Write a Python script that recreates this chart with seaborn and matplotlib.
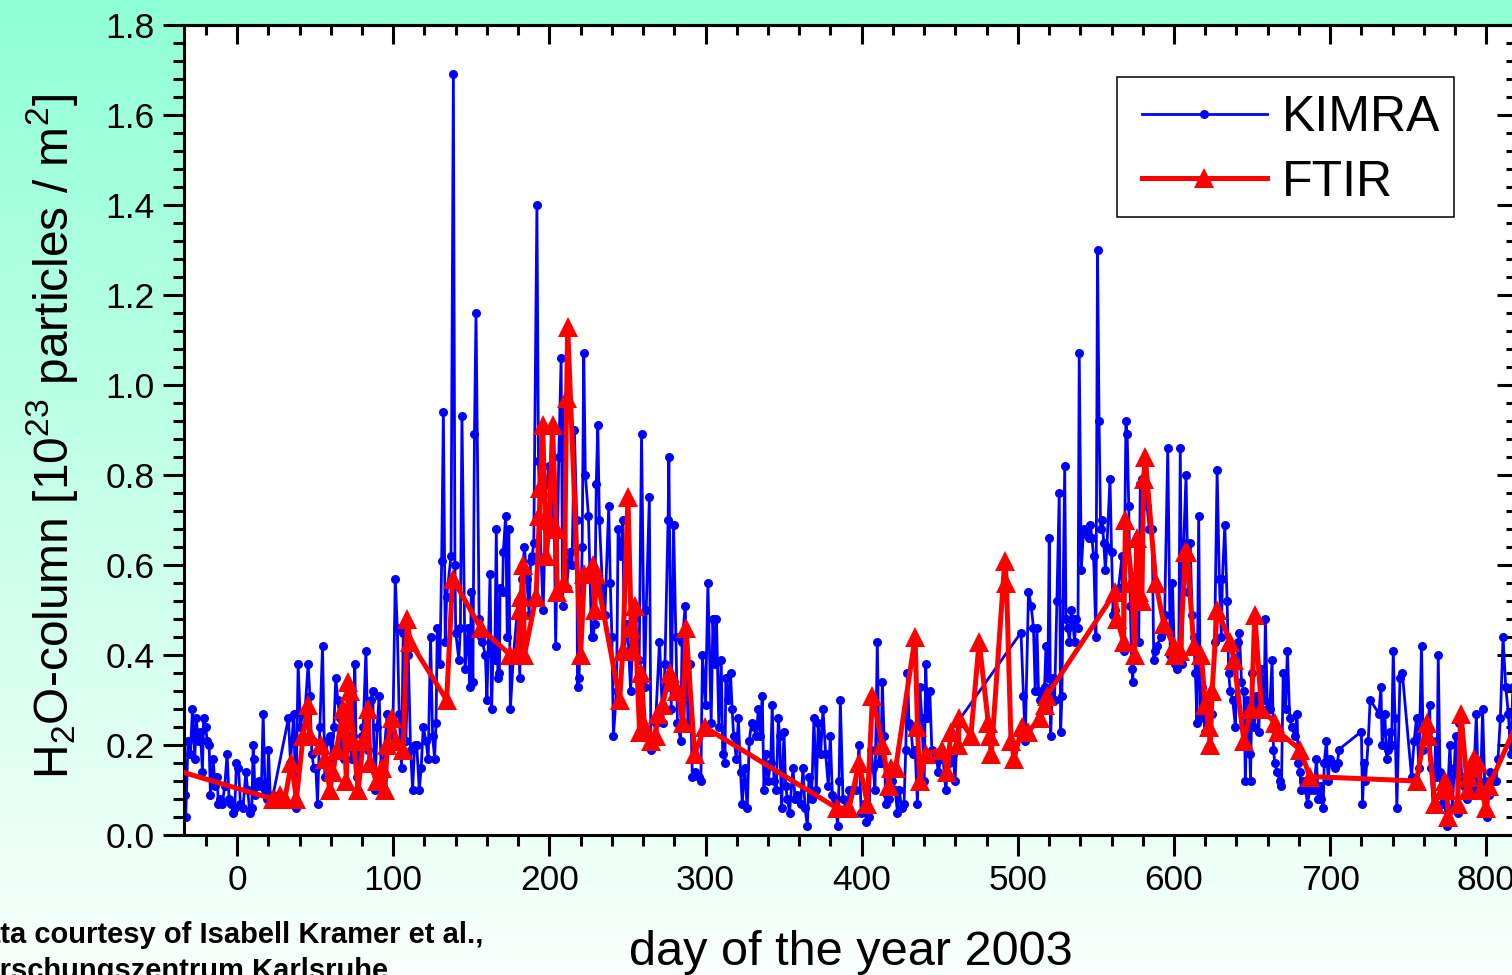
import numpy as np
import matplotlib
matplotlib.use("Agg")
import matplotlib.pyplot as plt
import seaborn as sns
from matplotlib.ticker import MultipleLocator, FormatStrFormatter
from matplotlib.patches import Rectangle

# KIMRA: day of year 2003 / H2O column (1e23 particles per m^2)
KIMRA_DAY = [
    -33.5, -32.9, -31.4, -29.9, -28.6, -27.1, -26.1, -25.0, -23.5, -22.2, -21.4, -20.1, -19.2, -17.9, -17.1,
    -15.4, -14.1, -12.8, -12.0, -10.7, -9.4, -7.9, -6.4, -5.1, -3.6, -2.6, -1.5, -0.4, 0.9, 2.1, 3.8, 5.6,
    6.8, 8.1, 9.4, 10.3, 10.7, 11.5, 12.8, 14.1, 15.6, 16.7, 17.9, 19.2, 20.1, 21.4, 23.1, 32.9, 34.2, 36.3,
    37.6, 39.1, 40.6, 41.9, 43.4, 45.5, 46.6, 47.9, 49.1, 50.4, 51.5, 53.0, 54.7, 56.2, 57.7, 59.4, 60.7,
    62.0, 63.2, 64.5, 65.8, 67.1, 68.4, 70.1, 71.4, 73.3, 74.4, 75.4, 76.5, 78.2, 79.7, 80.8, 82.5, 84.0,
    85.5, 86.8, 88.2, 89.7, 91.0, 92.3, 93.6, 96.2, 97.9, 99.6, 101.3, 102.6, 103.8, 105.3, 106.4, 108.1,
    109.6, 111.1, 112.4, 113.7, 115.0, 116.7, 117.9, 119.2, 120.9, 122.4, 123.9, 125.2, 126.5, 127.4, 128.2,
    129.9, 131.0, 132.1, 133.3, 134.2,
    137.0, 138.5, 139.5, 140, 142, 143, 144, 146, 148, 149, 150, 151, 152, 153, 155, 156, 157, 159, 160,
    162, 163, 164, 165, 166, 167, 168, 168.4, 170, 170.5, 172, 173, 174, 175, 177, 180, 181, 182.5, 184,
    185.5, 187, 188, 189, 190, 192, 193, 194.7, 196, 198, 200, 202, 203, 204, 206, 207.5, 208.5, 209.6, 211,
    213, 214.5, 216, 217.5, 218, 219, 221, 222, 223, 225, 227, 228, 229, 230, 231, 232, 234, 235.5, 238,
    239, 240, 241, 243, 244, 246, 247, 248, 250, 252, 254, 255, 257.5, 259, 260.9, 262, 264, 265, 267, 268,
    270.5, 272.6, 274, 276, 276.5, 278, 279.5, 281, 282, 284, 285, 287, 288.7, 290, 291.5, 293, 296, 297,
    298, 300, 301.5, 303.6, 304.7, 305.8,
    307, 308.5, 310, 311, 312.4, 313, 314.5, 316, 317, 318, 319.7, 321, 322.4, 323.5, 325, 326.7, 328,
    329.5, 331, 332.5, 333.8, 335, 336.3, 337.4, 338.5, 340, 341.7, 342.7, 343.8, 345.3, 346.6, 347.4,
    348.7, 350.2, 351.3, 352.4, 353.8, 356, 357.3, 358.8, 360.9, 362.4, 363.7, 365.2, 366.2, 367.9, 369.4,
    370.9, 372.2, 373.7, 375.2, 376.9, 378.6, 379.9, 381.2, 382.9, 384.6, 385.5, 386.3, 388, 390.8, 391.9,
    394, 396.2, 398.3, 399.6, 401.5, 403, 404.7, 405.8, 407.3, 408.5, 410, 411.1, 412.2, 413.2, 414.3,
    415.4, 416.5, 417.5, 419.7, 421.4, 422.9, 424, 425.6, 427.1, 428.2, 429.3, 430.3, 431.4, 432.9, 434.2,
    435.7, 437.2, 438.5, 440, 441, 442.1, 443.6, 444.9, 446.4, 447.9, 449.1, 450.6, 452.1, 453.8, 455.6,
    457, 458.5, 459.8, 461.3,
    502, 503.6, 504.7, 506.8, 508.5, 510, 511.1, 512.2, 513.2, 514.3, 515.4, 517.1, 518, 519.2, 520.1, 521,
    522.2, 523.5, 525, 526.5, 527.4, 528.2, 530, 530.8, 532.1, 533, 534.2, 535, 536.3, 537.2, 538.5, 539.3,
    540.6, 542.1, 543.6, 545.3, 546.4, 547.4, 548.5, 550, 551, 552, 553, 554, 555, 556, 557, 559, 560, 561,
    562.4, 564.5, 566.7, 567.7, 569.2, 570, 571, 572, 573, 573.6, 575, 576, 577.4, 578.4, 579.5, 581,
    582.7, 584.2, 586, 587, 588, 589, 591.5, 592.3, 594, 596, 597.6, 599, 600.4, 602, 603, 604, 605, 606.2,
    607.7, 609, 610.4, 611.5, 612.6, 613.7, 614.7, 615.8, 616.9, 618, 619.7, 621.2, 622.7, 624.4, 626,
    627.6, 629, 630.3, 631, 632.5, 634, 635, 636, 637.6, 639.3, 641, 641.9, 643.2, 644.7, 645.7, 646.8,
    648.5, 649, 650, 651.3, 652.8, 654.3, 655.6, 656.4, 657.7, 658.5, 659.8, 661.3, 662.8, 663.7, 664.5,
    666.2, 667.7, 668.8, 669.9, 671.4, 672.6, 674.1, 675.6, 677.4, 678.8, 679.5, 680.6, 681.6, 682.7, 684.2,
    685.5, 687, 688.5, 689.7, 691.2, 692.3, 693.4, 694.4, 695.5, 696.2, 697.6, 698.7, 699.8, 700.9, 703.4,
    704.7, 705.6, 720, 720.7, 721.8, 722.6, 724.4, 725.6, 731.2, 732.5, 733.3, 735, 736.1, 737.2, 738.2,
    739.3, 740.4, 741.5, 742.7, 744.7, 746.2, 752.1, 753.8, 755.3, 756.8, 758.5, 759.6, 761, 762.4, 763.7,
    764.5, 766, 767.5, 768.4, 769.2, 770.3, 771.4, 773.1, 774.6, 775.6, 776.7, 778.2, 779.5, 780.3, 781.6,
    782.7, 784.2, 785.9, 787.4, 788.9, 790.6, 791.9, 793.6, 794.9, 796.2, 797.6, 798.9, 800.2, 801.5,
    802.6, 804.7, 806.2, 807.5, 809, 810.7, 812.4, 814.1, 815.6, 817,
]
KIMRA_COL = [
    0.09, 0.04, 0.21, 0.18, 0.28, 0.17, 0.26, 0.21, 0.23, 0.14, 0.26, 0.24, 0.21, 0.20, 0.09,
    0.17, 0.11, 0.13, 0.07, 0.08, 0.07, 0.11, 0.18, 0.08, 0.07, 0.05, 0.06, 0.16, 0.15, 0.07, 0.06, 0.14,
    0.10, 0.05, 0.06, 0.20, 0.17, 0.09, 0.11, 0.12, 0.11, 0.27, 0.10, 0.08, 0.19, 0.07, 0.09, 0.26, 0.16, 0.27,
    0.06, 0.38, 0.24, 0.27, 0.27, 0.38, 0.31, 0.18, 0.15, 0.15, 0.07, 0.24, 0.42, 0.13, 0.21, 0.22, 0.17,
    0.24, 0.35, 0.30, 0.26, 0.20, 0.17, 0.26, 0.22, 0.17, 0.22, 0.38, 0.13, 0.19, 0.22, 0.24, 0.41, 0.19,
    0.30, 0.32, 0.10, 0.24, 0.31, 0.14, 0.16, 0.27, 0.24, 0.20, 0.57, 0.46, 0.27, 0.15, 0.45, 0.21,
    0.40, 0.19, 0.10, 0.20, 0.20, 0.10, 0.15, 0.24, 0.21, 0.17, 0.44, 0.22, 0.17, 0.25, 0.46,
    0.38, 0.61, 0.94, 0.43, 0.53,
    0.62, 1.69, 0.60, 0.45, 0.39, 0.46, 0.93, 0.37, 0.46, 0.33, 0.54, 0.34, 0.89, 1.16, 0.48, 0.44, 0.43, 0.40, 0.30,
    0.58, 0.28, 0.42, 0.39, 0.68, 0.35, 0.36, 0.55, 0.54, 0.63, 0.71, 0.44, 0.68, 0.28, 0.40, 0.52, 0.35, 0.57, 0.64,
    0.57, 0.49, 0.61, 0.62, 0.65, 1.40, 0.83, 0.61, 0.50, 0.78, 0.82, 0.67, 0.74, 0.42, 0.84, 1.06, 0.51, 0.95, 0.55,
    0.63, 0.60, 0.90, 0.70, 0.33, 0.35, 0.64, 1.07, 0.80, 0.71, 0.44, 0.44, 0.47, 0.78, 0.91, 0.70, 0.55, 0.49, 0.73,
    0.56, 0.44, 0.22, 0.32, 0.68, 0.62, 0.70, 0.41, 0.47, 0.32, 0.48, 0.42, 0.39, 0.89, 0.33, 0.50, 0.75, 0.19, 0.22, 0.25,
    0.43, 0.25, 0.38, 0.70, 0.84, 0.28, 0.69, 0.44, 0.25, 0.21, 0.43, 0.51, 0.25, 0.38, 0.13, 0.14, 0.13, 0.12,
    0.40, 0.29, 0.56, 0.25, 0.48, 0.38,
    0.48, 0.24, 0.39, 0.18, 0.16, 0.35, 0.30, 0.36, 0.28, 0.22, 0.17, 0.26, 0.14, 0.07, 0.15, 0.06, 0.21,
    0.25, 0.24, 0.22, 0.28, 0.22, 0.31, 0.10, 0.18, 0.12, 0.16, 0.29, 0.12, 0.10, 0.26, 0.22,
    0.06, 0.23, 0.11, 0.08, 0.05, 0.15, 0.08, 0.09, 0.07, 0.15, 0.06, 0.02, 0.13, 0.08, 0.26,
    0.10, 0.25, 0.18, 0.28, 0.18, 0.11, 0.22, 0.09, 0.08, 0.02, 0.12, 0.30, 0.08, 0.05, 0.10,
    0.10, 0.10, 0.20, 0.05, 0.07, 0.03, 0.04, 0.19, 0.15, 0.10, 0.43, 0.16, 0.16, 0.34, 0.22,
    0.07, 0.09, 0.08, 0.12, 0.10, 0.05, 0.10, 0.06, 0.07, 0.19, 0.36, 0.25, 0.24, 0.18, 0.19,
    0.07, 0.33, 0.26, 0.12, 0.38, 0.26, 0.32, 0.19, 0.17, 0.17, 0.14, 0.17, 0.17, 0.10, 0.16,
    0.17, 0.18, 0.12, 0.25,
    0.45, 0.31, 0.21, 0.54, 0.51, 0.46, 0.32, 0.46, 0.32, 0.30, 0.32, 0.33, 0.42, 0.35, 0.66, 0.22,
    0.35, 0.30, 0.52, 0.76, 0.23, 0.31, 0.82, 0.48, 0.46, 0.43, 0.50, 0.48, 0.43, 0.48, 0.46, 1.07,
    0.59, 0.68, 0.67, 0.66, 0.69, 0.66, 0.62, 0.44, 1.30, 0.92, 0.68, 0.70, 0.65, 0.59, 0.64, 0.79, 0.63, 0.49,
    0.50, 0.55, 0.62, 0.41, 0.92, 0.89, 0.73, 0.51, 0.37, 0.34, 0.54, 0.58, 0.43, 0.78, 0.79, 0.78,
    0.73, 0.68, 0.68, 0.39, 0.41, 0.42, 0.44, 0.45, 0.49, 0.86, 0.40, 0.56, 0.38, 0.37, 0.40, 0.86, 0.38, 0.65,
    0.80, 0.54, 0.65, 0.49, 0.44, 0.36, 0.25, 0.71, 0.26, 0.33, 0.23, 0.28, 0.30, 0.27, 0.43,
    0.81, 0.57, 0.44, 0.57, 0.69, 0.52, 0.36, 0.32, 0.30, 0.24, 0.43, 0.45, 0.34, 0.32, 0.12, 0.30,
    0.18, 0.12, 0.36, 0.24, 0.31, 0.23, 0.37, 0.34, 0.30, 0.48, 0.28, 0.28, 0.39, 0.19, 0.16,
    0.14, 0.12, 0.11, 0.36, 0.28, 0.41, 0.26, 0.24, 0.22, 0.27, 0.16, 0.14, 0.10, 0.12, 0.10,
    0.07, 0.10, 0.11, 0.10, 0.17, 0.08, 0.11, 0.08, 0.06, 0.16, 0.21, 0.12, 0.17, 0.16, 0.15,
    0.16, 0.19, 0.23, 0.07, 0.16, 0.12, 0.21, 0.30, 0.27, 0.33, 0.20, 0.27, 0.17, 0.19, 0.23,
    0.20, 0.41, 0.26, 0.06, 0.35, 0.36, 0.13, 0.21, 0.26, 0.15, 0.42, 0.19, 0.24, 0.23, 0.29,
    0.15, 0.06, 0.21, 0.13, 0.40, 0.14, 0.07, 0.09, 0.02, 0.12, 0.20, 0.06, 0.15, 0.22, 0.05,
    0.25, 0.13, 0.11, 0.08, 0.12, 0.10, 0.12, 0.27, 0.10, 0.09, 0.28, 0.12, 0.04, 0.09,
    0.14, 0.12, 0.12, 0.17, 0.26, 0.44, 0.33, 0.27, 0.18, 0.33,
]

# FTIR
FTIR_DAY = [
    -45, 23, 27.4, 30.6, 34.8, 38, 42.3, 45.5, 46.6, 54, 56.2, 59.4, 61.5, 63.7, 68, 70, 71.2, 72.2, 74.4,
    77.6, 80.8, 84, 85, 89.3, 92.5, 94.7, 96.2, 98.9, 102, 106.4, 109, 110.7, 134.2, 138, 156, 175, 180,
    181, 182, 183, 184, 191.5, 193.6, 194, 195.7, 198, 200, 202, 204.3, 205, 209.6, 211, 211.7, 220, 222.4,
    227.8, 229, 230, 245, 247, 250.3, 252.4, 253.5, 254.5, 257.7, 258.8, 260.9, 265, 268, 269.5, 272.6,
    277, 279, 282, 285.5, 287.5, 293, 299.4, 384, 391.9, 398.3, 403.6, 406.9, 413.3, 417.5, 418.6, 421.8,
    434.2, 435.7, 437.2, 441, 451.7, 454.9, 457, 461.9, 462.4, 469.9, 475.2, 481, 482, 483, 491.6, 492.7,
    495.6, 497.6, 502.6, 506.8, 514.3, 517.5, 518.6, 562.4, 563.5, 567.7, 568.9, 573, 574.7, 576.2, 577.3,
    579.4, 580.5, 581.6, 588.3, 593.4, 599.8, 600.9, 604, 607.3, 608.4, 612.6, 617.5, 620, 622.2, 623.3,
    624.4, 627.6, 636, 638.3, 644.7, 649.6, 651.7, 656, 664.5, 666.7, 680.6, 687, 755.3, 761.8, 762.8,
    767.1, 773.5, 774.6, 775.6, 781.6, 783.8, 788, 789.1, 790.2, 792.3, 794.4, 796.6, 799.8, 801.9, 825,
]
FTIR_COL = [
    0.15, 0.08, 0.09, 0.08, 0.16, 0.08, 0.22, 0.29, 0.22, 0.20, 0.17, 0.10, 0.14, 0.19, 0.28, 0.12, 0.34, 0.32, 0.21,
    0.10, 0.21, 0.28, 0.16, 0.12, 0.15, 0.10, 0.20, 0.26, 0.21, 0.19, 0.48, 0.43, 0.30, 0.57, 0.46, 0.40, 0.41,
    0.50, 0.53, 0.60, 0.40, 0.53, 0.71, 0.77, 0.91, 0.62, 0.70, 0.91, 0.68, 0.54, 0.56, 0.97, 1.13, 0.40, 0.58,
    0.60, 0.50, 0.58, 0.30, 0.41, 0.75, 0.46, 0.41, 0.51, 0.23, 0.36, 0.24, 0.21, 0.22, 0.27, 0.29,
    0.36, 0.34, 0.32, 0.25, 0.46, 0.18, 0.24, 0.06, 0.06, 0.16, 0.07, 0.31, 0.20, 0.11, 0.15, 0.15,
    0.44, 0.24, 0.12, 0.18, 0.19, 0.14, 0.23, 0.20, 0.26, 0.22, 0.43, 0.25, 0.22, 0.18, 0.61, 0.56,
    0.21, 0.17, 0.24, 0.23, 0.26, 0.29, 0.31, 0.54, 0.48, 0.43, 0.70, 0.56, 0.40, 0.66, 0.54,
    0.52, 0.79, 0.84, 0.56, 0.47, 0.42, 0.40, 0.41, 0.63, 0.63, 0.42, 0.40, 0.29, 0.24, 0.20,
    0.32, 0.50, 0.43, 0.39, 0.21, 0.28, 0.49, 0.28, 0.25, 0.23, 0.19, 0.13, 0.12, 0.25, 0.22,
    0.07, 0.12, 0.10, 0.04, 0.07, 0.27, 0.10, 0.13, 0.15, 0.17, 0.16, 0.10, 0.06, 0.11, 0.29,
]

W, H = 1512, 975
plt.rcParams["font.family"] = ["Liberation Sans", "DejaVu Sans"]
plt.rcParams["mathtext.default"] = "regular"

fig = plt.figure(figsize=(W / 100, H / 100), dpi=100)

# aquamarine -> white background
bg = fig.add_axes([0, 0, 1, 1], zorder=-10)
t = np.linspace(0, 1, 256)[:, None]
top = np.array([0.56, 1.0, 0.84])
bot = np.array([0.98, 1.0, 0.99])
grad = top[None, None, :] * (1 - t[..., None]) + bot[None, None, :] * t[..., None]
bg.imshow(grad, aspect="auto", extent=[0, 1, 0, 1])
bg.axis("off")

ax = fig.add_axes([184 / W, (H - 835) / H, (1516 - 184) / W, 810 / H])
ax.set_facecolor("white")

sns.lineplot(x=KIMRA_DAY, y=KIMRA_COL, ax=ax, sort=False, estimator=None,
             color="#0000ff", lw=2.0, marker="o", markersize=6.5,
             markeredgecolor="#0000ff", markeredgewidth=0, label="KIMRA", zorder=2)
sns.lineplot(x=FTIR_DAY, y=FTIR_COL, ax=ax, sort=False, estimator=None,
             color="#ff0000", lw=3.6, marker="^", markersize=14,
             markeredgecolor="#ff0000", markeredgewidth=0, label="FTIR", zorder=3)

ax.set_xlim(-34, 819)
ax.set_ylim(0, 1.8)
ax.xaxis.set_major_locator(MultipleLocator(100))
ax.xaxis.set_minor_locator(MultipleLocator(20))
ax.yaxis.set_major_locator(MultipleLocator(0.2))
ax.yaxis.set_minor_locator(MultipleLocator(0.04))
ax.yaxis.set_major_formatter(FormatStrFormatter("%.1f"))
ax.tick_params(which="both", direction="out", width=2.2, labelsize=25.5, color="black")
ax.tick_params(which="major", length=15, pad=6)
ax.tick_params(which="minor", length=8)
ax.set_xlabel("")
ax.set_ylabel("")
for s in ax.spines.values():
    s.set_linewidth(2.2)
    s.set_color("black")

# top/right ticks point inwards
secx = ax.secondary_xaxis("top")
secx.xaxis.set_major_locator(MultipleLocator(100))
secx.xaxis.set_minor_locator(MultipleLocator(20))
secx.tick_params(which="both", direction="in", width=2.2, labeltop=False)
secx.tick_params(which="major", length=14)
secx.tick_params(which="minor", length=7.5)
secx.spines["top"].set_linewidth(2.2)
secy = ax.secondary_yaxis("right")
secy.yaxis.set_major_locator(MultipleLocator(0.2))
secy.yaxis.set_minor_locator(MultipleLocator(0.04))
secy.tick_params(which="both", direction="in", width=2.2, labelright=False)
secy.tick_params(which="major", length=14)
secy.tick_params(which="minor", length=7.5)

# legend box
ax.add_patch(Rectangle((0.7005, 0.763), 0.253, 0.1728, transform=ax.transAxes,
                       facecolor="white", edgecolor="black", lw=1.1, zorder=5))
leg = ax.legend(loc="center left", bbox_to_anchor=((1141.7 - 184) / 1332, 0.845),
                frameon=False, fontsize=36, borderpad=0, borderaxespad=0,
                handlelength=2.5, handletextpad=0.3, labelspacing=0.37)
leg.set_zorder(6)

fig.text(851 / W, (H - 965) / H, "day of the year 2003", fontsize=35,
         ha="center", va="baseline")
fig.text(68 / W, (H - 437) / H, r"H$_2$O-column [10$^{23}$ particles / m$^2$]",
         fontsize=34.5, rotation=90, rotation_mode="anchor",
         ha="center", va="baseline")
fig.text(-37 / W, (H - 943) / H, "Data courtesy of Isabell Kramer et al.,",
         fontsize=21, fontweight="bold", ha="left", va="baseline")
fig.text(-36 / W, (H - 979) / H, "Forschungszentrum Karlsruhe",
         fontsize=21, fontweight="bold", ha="left", va="baseline")

fig.savefig("out.png", dpi=100)
